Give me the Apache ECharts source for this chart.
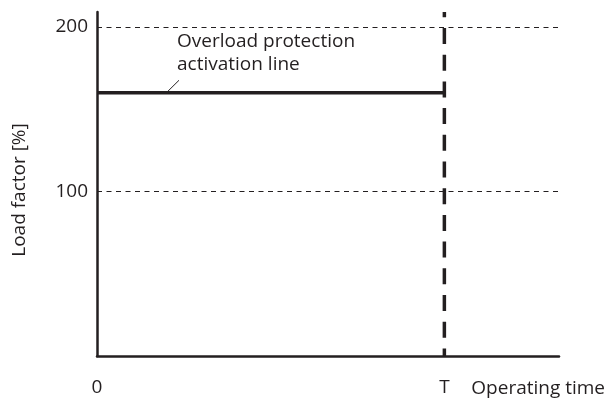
<!DOCTYPE html>
<html>
<head>
<meta charset="utf-8">
<script src="https://cdn.jsdelivr.net/npm/echarts@6/dist/echarts.min.js"></script>
<style>
  html, body { margin: 0; padding: 0; background: #fff; }
  #main { width: 608px; height: 398px; }
</style>
</head>
<body>
<div id="main"></div>
<script>
// time axis: 0 .. T (T = 100), axis runs a bit past T
var xMax = 133;
var tValue = 100;
var xTicks = [0, 100];
var xTickLabels = ['0', 'T'];
// load factor axis
var yMax = 209;
var yTicks = [100, 200];
// overload protection activation line
var overloadLevel = 160;
var overloadLine = [[0, overloadLevel], [tValue, overloadLevel]];
// vertical marker at T, drawn top to bottom
var tLine = [[tValue, yMax], [tValue, 0]];
// leader from the annotation text to the line
var leader = [[20, 160], [23.6, 167.5]];
var note = 'Overload protection\nactivation line';

var ink = '#231f20';
var font = 'Open Sans';
var fs = 19;

var chart = echarts.init(document.getElementById('main'), null, { renderer: 'canvas' });

var option = {
  animation: false,
  grid: { left: 97, right: 48, top: 12, bottom: 42 },
  xAxis: {
    type: 'value',
    min: 0,
    max: xMax,
    interval: 100,
    name: 'Operating time',
    nameLocation: 'end',
    nameGap: 46,
    nameTextStyle: {
      color: ink, fontFamily: font, fontSize: fs,
      align: 'right', verticalAlign: 'top', padding: [23, 0, 0, 0]
    },
    axisLine: { onZero: false, lineStyle: { color: ink, width: 2.5 } },
    axisTick: { show: false },
    splitLine: { show: false },
    axisLabel: {
      margin: 22,
      color: ink, fontFamily: font, fontSize: fs,
      showMaxLabel: false,
      formatter: function (v) {
        var i = xTicks.indexOf(v);
        return i >= 0 ? xTickLabels[i] : '';
      }
    }
  },
  yAxis: {
    type: 'value',
    min: 0,
    max: yMax,
    interval: 100,
    name: 'Load factor [%]',
    nameLocation: 'middle',
    nameGap: 68,
    nameTextStyle: { color: ink, fontFamily: font, fontSize: fs, padding: [0, 12, 0, 0] },
    axisLine: { lineStyle: { color: ink, width: 2.5 } },
    axisTick: { show: false },
    splitLine: { show: false },
    axisLabel: {
      margin: 9,
      color: ink, fontFamily: font, fontSize: fs,
      formatter: function (v) {
        return yTicks.indexOf(v) >= 0 ? String(v) : '';
      }
    }
  },
  series: [
    {
      type: 'line',
      data: overloadLine,
      symbol: 'none',
      lineStyle: { color: ink, width: 3.5 },
      markLine: {
        silent: true,
        symbol: 'none',
        label: { show: false },
        lineStyle: { color: ink, width: 1, type: [5, 4.5] },
        data: yTicks.map(function (v) { return { yAxis: v }; })
      },
      z: 3
    },
    {
      type: 'line',
      data: tLine,
      symbol: 'none',
      lineStyle: { color: ink, width: 3.5, type: [16, 10.7], dashOffset: 10.7 },
      z: 4
    },
    {
      type: 'line',
      data: leader.map(function (p, i) {
        return i === leader.length - 1 ? {
          value: p,
          label: {
            show: true,
            formatter: note,
            position: 'top',
            align: 'left',
            verticalAlign: 'bottom',
            distance: 0,
            offset: [-2, -4],
            color: ink,
            fontFamily: font,
            fontSize: fs,
            lineHeight: 23
          }
        } : p;
      }),
      symbol: 'circle',
      symbolSize: 0.01,
      showSymbol: true,
      itemStyle: { color: ink },
      lineStyle: { color: ink, width: 1 },
      z: 2
    }
  ]
};

chart.setOption(option);
</script>
</body>
</html>
